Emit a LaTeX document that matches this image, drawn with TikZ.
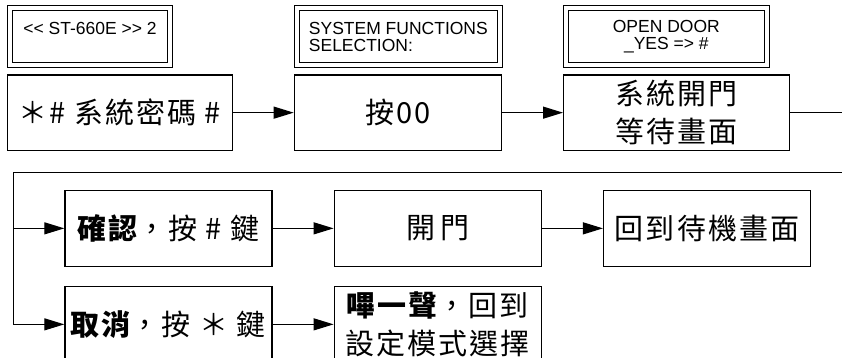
\documentclass[tikz,border=0pt]{standalone}
\usepackage{fontspec}
\setmainfont{Liberation Sans}
\newfontfamily\cjk[LetterSpace=7]{Noto Sans CJK TC}
\usepackage{tikz}
\usetikzlibrary{positioning, arrows.meta}
\tikzstyle{lcd} = [rectangle, minimum height=57.3pt, inner sep=0pt, outer sep=3pt, align=center, draw=black, double, double distance=4pt, line width=1pt, font=\fontsize{17.5}{16.7}\selectfont]
\tikzstyle{process} = [rectangle, minimum width=207.1pt, minimum height=75.5pt, inner sep=0pt, align=center, draw=black, line width=1.2pt, font=\cjk\fontsize{29}{38}\selectfont]
\tikzstyle{arrow} = [line width=1.2pt,-{Triangle[length=20pt,width=12pt]}]
\tikzstyle{line} = [line width=1.2pt]

\begin{document}
\begin{tikzpicture}[x=1pt, y=1pt]
		\useasboundingbox (0,0) rectangle (842,-357);
		\node (pro1) [process, minimum width=224.8pt, anchor=north west] at (6.7,-74.3) {＊\# 系統密碼 \#};
		\node (pro2) [process, right=61pt of pro1] {按00};
		\node (pro3) [process, minimum width=225.5pt, right=61pt of pro2] {系統開門\\等待畫面};
		\node (lcd1) [lcd, minimum width=160.6pt, above=6pt of pro1.north west, anchor=south west] {<{}< ST-660E >{}> 2\\~};
		\node (lcd2) [lcd, minimum width=203.3pt, align=left, above=6pt of pro2.north west, anchor=south west] {SYSTEM FUNCTIONS\\SELECTION:};
		\node (lcd3) [lcd, minimum width=200.7pt, above=6pt of pro3.north west, anchor=south west] {OPEN DOOR\\\_YES => \#};
		\node (pro4) [process, anchor=north west] at (64.3,-190) {{\bfseries 確認}，按 \# 鍵};
		\node (pro5) [process, right=61pt of pro4] {開\,門};
		\node (pro6) [process, right=61pt of pro5] {回到待機畫面};
		\node (pro7) [process, below=19.3pt of pro4] {{\bfseries 取消}，按 ＊ 鍵};
		\node (pro8) [process, below=19.3pt of pro5] {{\bfseries 嗶一聲}，回到\\設定模式選擇};
		\coordinate (rail) at (13.3,-172.3);
		\coordinate (edge) at (850,-172.3);

		\draw [arrow] (pro1) -- (pro2);
		\draw [arrow] (pro2) -- (pro3);
		\draw [line] (pro3) -- (pro3 -| edge);
		\draw [arrow] (edge) -- (rail) |- (pro7);
		\draw [arrow] (rail |- pro4) -- (pro4);
		\draw [arrow] (pro4) -- (pro5);
		\draw [arrow] (pro5) -- (pro6);
		\draw [arrow] (pro7) -- (pro8);
\end{tikzpicture}
\end{document}
